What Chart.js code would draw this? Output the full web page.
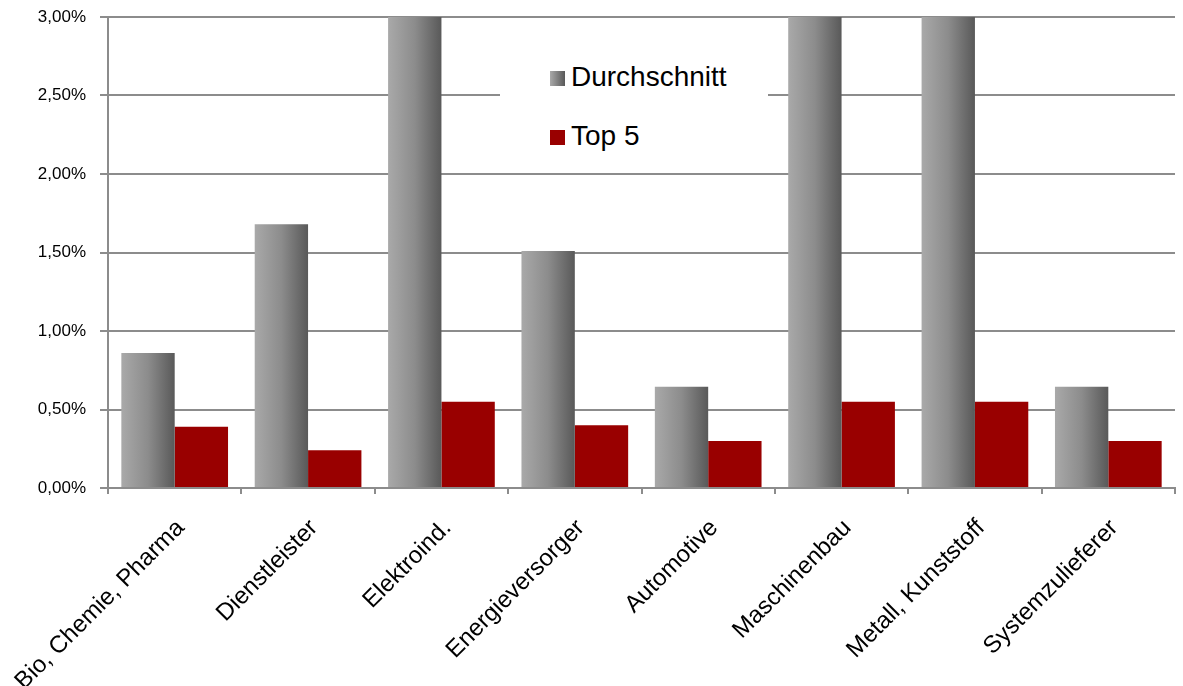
<!DOCTYPE html>
<html>
<head>
<meta charset="utf-8">
<script src="https://cdn.jsdelivr.net/npm/chart.js@4/dist/chart.umd.min.js"></script>
<style>
  body { margin: 0; background: #fff; }
  #wrap { position: relative; width: 1183px; height: 686px; }
  #legend {
    position: absolute; left: 500px; top: 52px; width: 268px; height: 112px;
    background: #fff; font-family: "Liberation Sans", Arial, sans-serif; font-size: 28px; color: #000;
  }
  #legend .item { position: absolute; left: 50px; height: 30px; line-height: 30px; white-space: nowrap; }
  #legend .box { display: inline-block; width: 15px; height: 15px; margin-right: 6px; vertical-align: 0px; }
</style>
</head>
<body>
<div id="wrap">
  <canvas id="chart" width="1183" height="686"></canvas>
  <div id="legend"></div>
</div>
<script>
(function() {
    const categories = [
        'Bio, Chemie, Pharma', 'Dienstleister', 'Elektroind.', 'Energieversorger',
        'Automotive', 'Maschinenbau', 'Metall, Kunststoff', 'Systemzulieferer'
    ];
    const durchschnitt = [0.86, 1.68, 3.0, 1.51, 0.645, 3.0, 3.0, 0.645];
    const top5 = [0.39, 0.24, 0.55, 0.40, 0.30, 0.55, 0.55, 0.30];
    const yTicks = [0, 0.5, 1.0, 1.5, 2.0, 2.5, 3.0];

    const font = '"Liberation Sans", Arial, sans-serif';
    const gridColor = '#8c8c8c';

    // grey bars get a left-to-right shading like the original
    const barGradient = {
        id: 'barGradient',
        beforeDatasetDraw(chart, args) {
            if (args.index !== 0) return;
            const ctx = chart.ctx;
            args.meta.data.forEach(bar => {
                const g = ctx.createLinearGradient(bar.x - bar.width / 2, 0, bar.x + bar.width / 2, 0);
                g.addColorStop(0, '#a9a9a9');
                g.addColorStop(0.5, '#8c8c8c');
                g.addColorStop(1, '#595959');
                bar.options.backgroundColor = g;
            });
        }
    };

    const chart = new Chart(document.getElementById('chart'), {
        type: 'bar',
        data: {
            labels: categories,
            datasets: [
                // scriptable colour so each bar keeps its own options object
                { label: 'Durchschnitt', data: durchschnitt, backgroundColor: () => '#8a8a8a' },
                { label: 'Top 5', data: top5, backgroundColor: '#990000' }
            ]
        },
        options: {
            responsive: false,
            animation: false,
            layout: { padding: { top: 17, right: 8, left: 0, bottom: 0 } },
            datasets: { bar: { categoryPercentage: 0.8, barPercentage: 1.0 } },
            plugins: { legend: { display: false }, tooltip: { enabled: false } },
            scales: {
                x: {
                    grid: { offset: true, drawOnChartArea: false, color: gridColor, lineWidth: 2, tickLength: 6 },
                    border: { color: gridColor, width: 2 },
                    ticks: {
                        color: '#000', font: { family: font, size: 24 },
                        minRotation: 45, maxRotation: 45, labelOffset: 6, padding: 20
                    },
                    afterFit(axis) {
                        axis.height = 198;
                        axis.paddingLeft = 0;
                        axis.paddingRight = 0;
                    }
                },
                y: {
                    min: 0, max: 3,
                    grid: { color: gridColor, lineWidth: 2, tickLength: 8 },
                    border: { color: gridColor, width: 2 },
                    afterBuildTicks(axis) { axis.ticks = yTicks.map(v => ({ value: v })); },
                    ticks: {
                        color: '#000', font: { family: font, size: 17 }, padding: 14,
                        callback: v => v.toFixed(2).replace('.', ',') + '%'
                    },
                    afterFit(axis) {
                        axis.width = 108;
                        axis.paddingTop = 0;
                        axis.paddingBottom = 0;
                    }
                }
            }
        },
        plugins: [barGradient]
    });

    // legend as html overlay inside the plot
    const legend = document.getElementById('legend');
    const swatches = ['linear-gradient(to right, #a9a9a9, #595959)', '#990000'];
    const tops = [10, 69];
    chart.data.datasets.forEach((ds, i) => {
        const item = document.createElement('div');
        item.className = 'item';
        item.style.top = tops[i] + 'px';
        const box = document.createElement('span');
        box.className = 'box';
        box.style.background = swatches[i];
        item.appendChild(box);
        item.appendChild(document.createTextNode(ds.label));
        legend.appendChild(item);
    });
})();
</script>
</body>
</html>
